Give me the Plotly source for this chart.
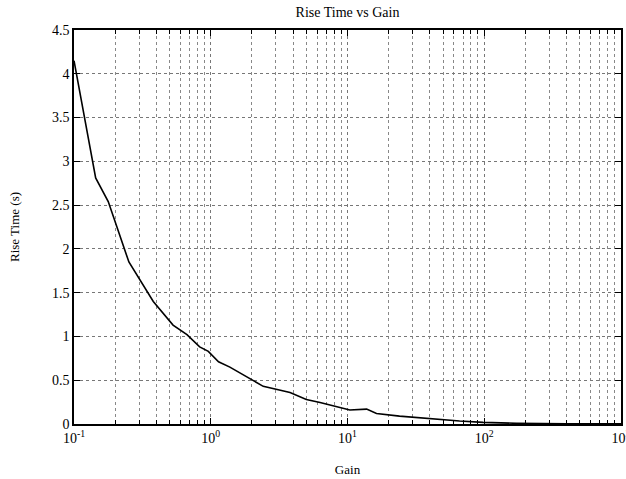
import plotly.graph_objects as go

gain = [0.1, 0.144, 0.178, 0.252, 0.38, 0.53, 0.67, 0.83, 0.96, 1.14, 1.38, 1.94, 2.42,
        3.8, 5.0, 6.3, 8.8, 10.4, 13.8, 16.3, 24, 42, 66, 98, 172, 400, 1000]
rise_time = [4.15, 2.81, 2.54, 1.85, 1.40, 1.13, 1.02, 0.88, 0.83, 0.71, 0.65, 0.52, 0.43,
             0.36, 0.28, 0.245, 0.19, 0.16, 0.17, 0.12, 0.09, 0.057, 0.034, 0.019, 0.008, 0.003, 0.001]

x_tickvals = [0.1, 1, 10, 100, 1000]
x_ticktext = ["10<sup>-1</sup>", "10<sup>0</sup>", "10<sup>1</sup>", "10<sup>2</sup>", "10<sup>3</sup>"]
minor_vals = [m * d for d in [0.1, 1, 10, 100] for m in range(2, 10)]

font = "Liberation Serif, Times New Roman, serif"

fig = go.Figure()
fig.add_trace(go.Scatter(x=gain, y=rise_time, mode="lines",
                         line=dict(color="black", width=1.6), showlegend=False))

fig.update_layout(
    width=626, height=479,
    paper_bgcolor="white", plot_bgcolor="white",
    margin=dict(l=74, r=5, t=30, b=55, autoexpand=False),
    font=dict(family=font, size=14, color="black"),
    title=dict(text="Rise Time vs Gain", x=0.5, xanchor="center", y=0.975, yanchor="middle",
               xref="paper", yref="container", font=dict(family=font, size=14, color="black")),
)
fig.update_xaxes(
    type="log", range=[-1, 3.0001], automargin=False, ticklabeloverflow="allow",
    tickmode="array", tickvals=x_tickvals, ticktext=x_ticktext,
    showline=True, linecolor="black", linewidth=1.5, mirror="allticks",
    ticks="inside", ticklen=6, tickcolor="black",
    showgrid=True, gridcolor="#777", griddash="dot", gridwidth=1,
    minor=dict(tickmode="array", tickvals=minor_vals, ticks="inside", ticklen=4,
               tickcolor="black", showgrid=True, gridcolor="#888", griddash="dot", gridwidth=1),
    title=dict(text="Gain", standoff=20, font=dict(family=font, size=13)),
    zeroline=False,
)
fig.update_yaxes(
    range=[0, 4.5], dtick=0.5, tick0=0, automargin=False,
    showline=True, linecolor="black", linewidth=1.5, mirror="allticks",
    ticks="inside", ticklen=6, tickcolor="black",
    showgrid=True, gridcolor="#777", griddash="dot", gridwidth=1,
    title=dict(text="Rise Time (s)", standoff=29, font=dict(family=font, size=13)),
    zeroline=False,
)

fig.write_html("out.html", config={"displayModeBar": False},
               post_script="document.body.style.margin='0';document.body.style.overflow='hidden';")
